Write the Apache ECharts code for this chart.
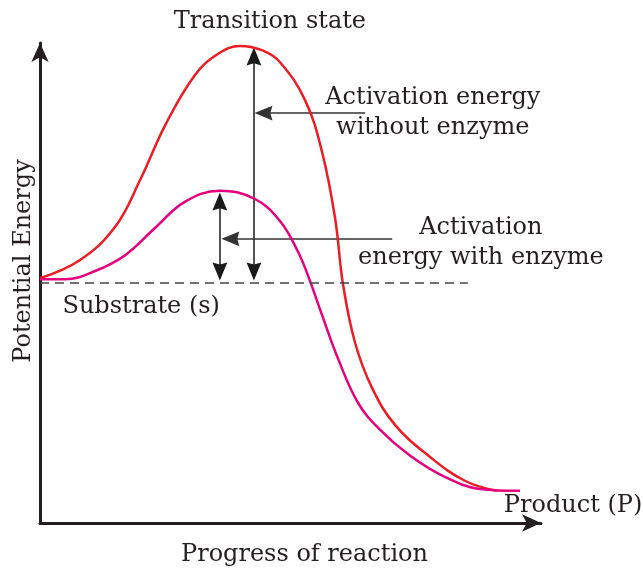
<!DOCTYPE html>
<html>
<head>
<meta charset="utf-8">
<script src="https://cdn.jsdelivr.net/npm/echarts@6/dist/echarts.min.js"></script>
<style>
  html, body { margin: 0; padding: 0; background: #fff; }
  #chart { width: 643px; height: 569px; }
</style>
</head>
<body>
<div id="chart"></div>
<script>
// progress of reaction (0-100) vs potential energy (0-100)
const withoutEnzyme = [
  [0, 51.0], [8.0, 54.8], [15.0, 61.7], [20.0, 71.5], [25.0, 82.9], [30.9, 93.3],
  [35.5, 97.7], [39.9, 99.4], [44.3, 98.5], [47.9, 96.0], [52.9, 88.1], [56.3, 77.3],
  [58.9, 63.5], [60.5, 49.6], [62.9, 37.5], [66.3, 28.1], [70.9, 20.4], [77.8, 13.8],
  [84.8, 8.8], [91.2, 6.7]
]
const withEnzyme = [
  [0, 50.8], [5.0, 50.8], [11.0, 52.5], [17.0, 55.8], [23.0, 61.5], [28.9, 66.9],
  [35.9, 69.2], [42.9, 67.5], [47.9, 62.9], [51.5, 56.5], [53.9, 50.4], [56.3, 43.3],
  [59.5, 34.2], [63.5, 25.0], [67.9, 19.4], [73.9, 14.0], [80.8, 9.6], [87.8, 7.1],
  [95.8, 6.7]
]
const substrateLevel = [[0, 50.0], [85.4, 50.0]]

// double-headed arrows (activation energies) and pointer arrows from the labels;
// ends are the centres of the arrow heads
const doubleArrows = [
  [[42.7, 52.4], [42.7, 97.2]],
  [[35.9, 52.4], [35.9, 67.0]]
]
const pointerArrows = [
  [[64.9, 85.4], [44.6, 85.4]],
  [[70.3, 59.2], [38.0, 59.2]]
]

const labels = [
  { text: 'Transition state', at: [45.9, 104.4] },
  { text: 'Activation energy\nwithout enzyme', at: [78.4, 85.4] },
  { text: 'Activation\nenergy with enzyme', at: [88.0, 58.4] },
  { text: 'Substrate (s)', at: [20.2, 45.0] },
  { text: 'Product (P)', at: [106.4, 3.5] }
]

const ink = '#231f20'
const font = 'DejaVu Serif'
// filled arrow head, 14 wide x 17 long; the two dots only widen the box to a square
const head = 'path://M0,0 L7,17 L0,15 L-7,17 Z M-8.5,0 L-8.5,0.01 M8.5,0 L8.5,0.01'

const chart = echarts.init(document.getElementById('chart'))
chart.setOption({
  animation: false,
  grid: { left: 40, right: 102, top: 43, bottom: 46, outerBoundsMode: 'none' },
  xAxis: {
    type: 'value', min: 0, max: 100,
    name: 'Progress of reaction',
    nameLocation: 'middle', nameGap: 20,
    nameTextStyle: { color: ink, fontFamily: font, fontSize: 24, padding: [0, 0, 0, 28] },
    axisLine: { lineStyle: { color: ink, width: 3 }, symbol: ['none', 'arrow'], symbolSize: [13, 19] },
    axisTick: { show: false }, axisLabel: { show: false }, splitLine: { show: false }
  },
  yAxis: {
    type: 'value', min: 0, max: 100,
    name: 'Potential Energy',
    nameLocation: 'middle', nameRotate: 90, nameGap: 4,
    nameTextStyle: { color: ink, fontFamily: font, fontSize: 24, padding: [0, 0, 0, 44] },
    axisLine: { lineStyle: { color: ink, width: 3 }, symbol: ['none', 'arrow'], symbolSize: [13, 19] },
    axisTick: { show: false }, axisLabel: { show: false }, splitLine: { show: false }
  },
  series: [
    {
      type: 'line', data: withoutEnzyme, smooth: 0.4, showSymbol: false, clip: false,
      lineStyle: { color: '#ed1c24', width: 2.5 }
    },
    {
      type: 'line', data: withEnzyme, smooth: 0.4, showSymbol: false, clip: false,
      lineStyle: { color: '#e6007e', width: 2.5 }
    },
    {
      type: 'line', data: substrateLevel, showSymbol: false,
      lineStyle: { color: '#444', width: 1.5, type: [9, 6] }
    },
    {
      type: 'lines', coordinateSystem: 'cartesian2d',
      symbol: [head, head], symbolSize: 18,
      lineStyle: { color: '#1a1a1a', width: 1.5, opacity: 1 },
      itemStyle: { color: '#1a1a1a' },
      data: doubleArrows.map(c => ({ coords: c }))
    },
    {
      type: 'lines', coordinateSystem: 'cartesian2d',
      symbol: ['none', head], symbolSize: 18,
      lineStyle: { color: '#333', width: 1.5, opacity: 1 },
      itemStyle: { color: '#1a1a1a' },
      data: pointerArrows.map(c => ({ coords: c }))
    },
    {
      type: 'scatter', symbolSize: 0, clip: false, silent: true,
      itemStyle: { opacity: 1 },
      label: {
        show: true, position: 'inside', formatter: p => p.data.name,
        color: ink, fontFamily: font, fontSize: 24, lineHeight: 30, align: 'center'
      },
      data: labels.map(l => ({ name: l.text, value: l.at }))
    }
  ]
})
</script>
</body>
</html>
